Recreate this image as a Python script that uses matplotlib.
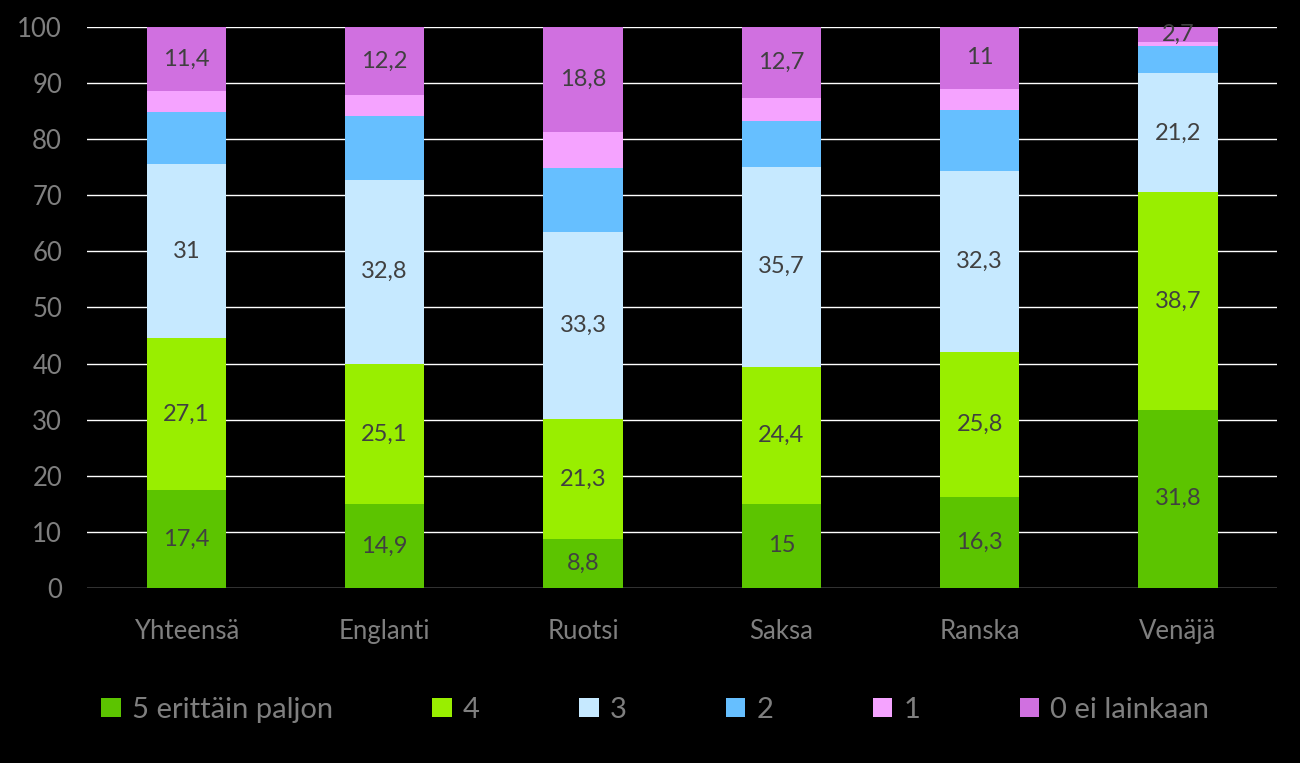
import matplotlib
matplotlib.use('Agg')
import matplotlib.pyplot as plt
import numpy as np

plt.rcParams['font.family'] = ['Lato', 'DejaVu Sans']

# Datos: kielet ja vastausten osuudet (%)
kielet = ['Yhteensä', 'Englanti', 'Ruotsi', 'Saksa', 'Ranska', 'Venäjä']
sarjat = ['5 erittäin paljon', '4', '3', '2', '1', '0 ei lainkaan']
arvo_5 = [17.4, 14.9, 8.8, 15, 16.3, 31.8]
arvo_4 = [27.1, 25.1, 21.3, 24.4, 25.8, 38.7]
arvo_3 = [31, 32.8, 33.3, 35.7, 32.3, 21.2]
arvo_2 = [9.4, 11.3, 11.4, 8.1, 10.8, 4.9]
arvo_1 = [3.7, 3.7, 6.4, 4.1, 3.8, 0.7]
arvo_0 = [11.4, 12.2, 18.8, 12.7, 11, 2.7]

arvot = [arvo_5, arvo_4, arvo_3, arvo_2, arvo_1, arvo_0]
varit = ['#5cc400', '#99ee00', '#c6e9ff', '#66bfff', '#f5a3ff', '#d070e0']
nayta_arvo = [True, True, True, False, False, True]

fig = plt.figure(figsize=(13, 7.63), dpi=100, facecolor='black')
ax = fig.add_axes([0.067, 0.2294, 0.9154, 0.7353], facecolor='black')

x = np.arange(len(kielet))
pohja = np.zeros(len(kielet))
for nimi, arvo, vari, nayta in zip(sarjat, arvot, varit, nayta_arvo):
    palkit = ax.bar(x, arvo, 0.4, bottom=pohja, color=vari, label=nimi, zorder=3)
    if nayta:
        tekstit = [f'{v:g}'.replace('.', ',') for v in arvo]
        ax.bar_label(palkit, labels=tekstit, label_type='center',
                     color='#404040', fontsize=17, zorder=4)
    pohja += np.array(arvo)

ax.set_xlim(-0.5, len(kielet) - 0.5)
ax.set_ylim(0, 100)
ax.set_yticks(range(0, 101, 10))
ax.set_xticks(x)
ax.set_xticklabels(kielet)
ax.grid(axis='y', color='white', linewidth=1.0, zorder=0)
for s in ax.spines.values():
    s.set_visible(False)
ax.tick_params(axis='both', length=0, colors='#7f7f7f', labelsize=18.5)
ax.tick_params(axis='y', pad=18)
ax.tick_params(axis='x', pad=22)

fig.legend(loc='center', ncol=6, mode='expand',
           bbox_to_anchor=(0.078, 0.0695 - 0.03, 0.852, 0.06),
           frameon=False, fontsize=21, labelcolor='#7f7f7f',
           handlelength=0.66, handleheight=0.62, handletextpad=0.38,
           borderpad=0, borderaxespad=0)

plt.savefig('out.png', dpi=100, facecolor='black')
plt.close()
